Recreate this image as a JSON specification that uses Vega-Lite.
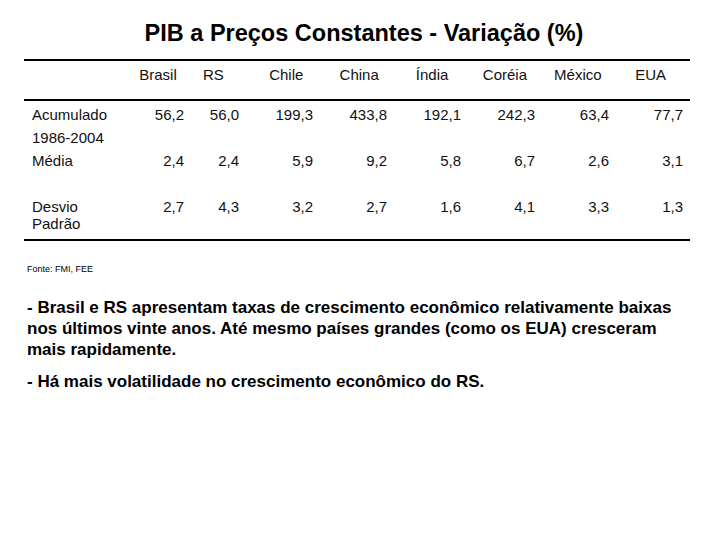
{
  "$schema": "https://vega.github.io/schema/vega-lite/v6.json",
  "width": 720,
  "height": 540,
  "autosize": {"type": "none"},
  "padding": 0,
  "background": "white",
  "config": {
    "view": {"stroke": null},
    "font": "Liberation Sans",
    "text": {"font": "Liberation Sans", "color": "#000000"},
    "locale": {"number": {"decimal": ",", "thousands": ".", "grouping": [3], "currency": ["R$", ""]}}
  },
  "datasets": {
    "titulo": [{"texto": "PIB a Preços Constantes - Variação (%)"}],
    "bordas": [{"borda": "topo"}, {"borda": "cabeçalho"}, {"borda": "base"}],
    "paises": [
      {"pais": "Brasil"}, {"pais": "RS"}, {"pais": "Chile"}, {"pais": "China"},
      {"pais": "Índia"}, {"pais": "Coréia"}, {"pais": "México"}, {"pais": "EUA"}
    ],
    "valores": [
      {"estat": "Acumulado", "pais": "Brasil", "valor": 56.2},
      {"estat": "Acumulado", "pais": "RS", "valor": 56.0},
      {"estat": "Acumulado", "pais": "Chile", "valor": 199.3},
      {"estat": "Acumulado", "pais": "China", "valor": 433.8},
      {"estat": "Acumulado", "pais": "Índia", "valor": 192.1},
      {"estat": "Acumulado", "pais": "Coréia", "valor": 242.3},
      {"estat": "Acumulado", "pais": "México", "valor": 63.4},
      {"estat": "Acumulado", "pais": "EUA", "valor": 77.7},
      {"estat": "Média", "pais": "Brasil", "valor": 2.4},
      {"estat": "Média", "pais": "RS", "valor": 2.4},
      {"estat": "Média", "pais": "Chile", "valor": 5.9},
      {"estat": "Média", "pais": "China", "valor": 9.2},
      {"estat": "Média", "pais": "Índia", "valor": 5.8},
      {"estat": "Média", "pais": "Coréia", "valor": 6.7},
      {"estat": "Média", "pais": "México", "valor": 2.6},
      {"estat": "Média", "pais": "EUA", "valor": 3.1},
      {"estat": "Desvio Padrão", "pais": "Brasil", "valor": 2.7},
      {"estat": "Desvio Padrão", "pais": "RS", "valor": 4.3},
      {"estat": "Desvio Padrão", "pais": "Chile", "valor": 3.2},
      {"estat": "Desvio Padrão", "pais": "China", "valor": 2.7},
      {"estat": "Desvio Padrão", "pais": "Índia", "valor": 1.6},
      {"estat": "Desvio Padrão", "pais": "Coréia", "valor": 4.1},
      {"estat": "Desvio Padrão", "pais": "México", "valor": 3.3},
      {"estat": "Desvio Padrão", "pais": "EUA", "valor": 1.3}
    ],
    "estatisticas": [
      {"estat": "Acumulado", "rotulo": "Acumulado\n1986-2004"},
      {"estat": "Média", "rotulo": "Média"},
      {"estat": "Desvio Padrão", "rotulo": "Desvio\nPadrão"}
    ],
    "fonte": [{"texto": "Fonte: FMI, FEE"}],
    "comentarios": [
      {"item": "1", "texto": "- Brasil e RS apresentam taxas de crescimento econômico relativamente baixas\nnos últimos vinte anos. Até mesmo países grandes (como os EUA) cresceram\nmais rapidamente."},
      {"item": "2", "texto": "- Há mais volatilidade no crescimento econômico do RS."}
    ]
  },
  "layer": [
    {
      "data": {"name": "titulo"},
      "mark": {"type": "text", "fontSize": 23.5, "fontWeight": "bold", "align": "center", "baseline": "alphabetic"},
      "encoding": {
        "x": {"field": "texto", "type": "nominal", "axis": null, "scale": {"range": [364, 364]}},
        "y": {"field": "texto", "type": "nominal", "axis": null, "scale": {"range": [41, 41]}},
        "text": {"field": "texto"}
      }
    },
    {
      "data": {"name": "bordas"},
      "transform": [{"filter": "datum.borda !== 'base'"}],
      "mark": {"type": "rule", "strokeWidth": 2, "color": "#000000"},
      "encoding": {
        "x": {"datum": 0, "type": "quantitative", "axis": null, "scale": {"domain": [0, 1], "range": [24, 690]}},
        "x2": {"datum": 1},
        "y": {"field": "borda", "type": "nominal", "axis": null, "scale": {"type": "point", "domain": ["topo", "cabeçalho"], "range": [60, 100], "padding": 0}}
      }
    },
    {
      "data": {"name": "bordas"},
      "transform": [{"filter": "datum.borda === 'base'"}],
      "mark": {"type": "rule", "strokeWidth": 2, "color": "#000000"},
      "encoding": {
        "x": {"datum": 0, "type": "quantitative", "axis": null, "scale": {"domain": [0, 1], "range": [24, 690]}},
        "x2": {"datum": 1},
        "y": {"field": "borda", "type": "nominal", "axis": null, "scale": {"type": "point", "range": [240, 240]}}
      }
    },
    {
      "data": {"name": "paises"},
      "transform": [{"filter": "datum.pais !== 'Brasil'"}],
      "mark": {"type": "text", "fontSize": 15, "align": "center", "baseline": "alphabetic", "color": "#111111"},
      "encoding": {
        "x": {"field": "pais", "type": "nominal", "axis": null, "scale": {"type": "point", "domain": ["Brasil", "RS", "Chile", "China", "Índia", "Coréia", "México", "EUA"], "range": [140.5, 650.7], "padding": 0}},
        "y": {"datum": "cabeçalho", "type": "nominal", "axis": null, "scale": {"type": "point", "range": [80, 80]}},
        "text": {"field": "pais"}
      }
    },
    {
      "data": {"name": "paises"},
      "transform": [{"filter": "datum.pais === 'Brasil'"}],
      "mark": {"type": "text", "fontSize": 15, "align": "center", "baseline": "alphabetic", "dx": 17.5, "color": "#111111"},
      "encoding": {
        "x": {"field": "pais", "type": "nominal", "axis": null, "scale": {"type": "point", "domain": ["Brasil", "RS", "Chile", "China", "Índia", "Coréia", "México", "EUA"], "range": [140.5, 650.7], "padding": 0}},
        "y": {"datum": "cabeçalho", "type": "nominal", "axis": null, "scale": {"type": "point", "range": [80, 80]}},
        "text": {"field": "pais"}
      }
    },
    {
      "data": {"name": "valores"},
      "transform": [{"filter": "datum.pais !== 'Brasil'"}],
      "mark": {"type": "text", "fontSize": 15, "align": "right", "baseline": "alphabetic", "color": "#111111"},
      "encoding": {
        "x": {"field": "pais", "type": "nominal", "axis": null, "scale": {"type": "point", "domain": ["Brasil", "RS", "Chile", "China", "Índia", "Coréia", "México", "EUA"], "range": [165, 683], "padding": 0}},
        "y": {"field": "estat", "type": "nominal", "axis": null, "scale": {"type": "point", "domain": ["Acumulado", "Média", "Desvio Padrão"], "range": [120.3, 211.5], "padding": 0}},
        "text": {"field": "valor", "type": "quantitative", "format": ".1f"}
      }
    },
    {
      "data": {"name": "valores"},
      "transform": [{"filter": "datum.pais === 'Brasil'"}],
      "mark": {"type": "text", "fontSize": 15, "align": "right", "baseline": "alphabetic", "dx": 19, "color": "#111111"},
      "encoding": {
        "x": {"field": "pais", "type": "nominal", "axis": null, "scale": {"type": "point", "domain": ["Brasil", "RS", "Chile", "China", "Índia", "Coréia", "México", "EUA"], "range": [165, 683], "padding": 0}},
        "y": {"field": "estat", "type": "nominal", "axis": null, "scale": {"type": "point", "domain": ["Acumulado", "Média", "Desvio Padrão"], "range": [120.3, 211.5], "padding": 0}},
        "text": {"field": "valor", "type": "quantitative", "format": ".1f"}
      }
    },
    {
      "data": {"name": "estatisticas"},
      "transform": [{"filter": "datum.estat === 'Acumulado'"}],
      "mark": {"type": "text", "fontSize": 15, "align": "left", "baseline": "alphabetic", "lineBreak": "\n", "lineHeight": 22.8, "color": "#111111"},
      "encoding": {
        "x": {"datum": "rótulo", "type": "nominal", "axis": null, "scale": {"type": "point", "range": [32, 32]}},
        "y": {"field": "estat", "type": "nominal", "axis": null, "scale": {"type": "point", "domain": ["Acumulado", "Média", "Desvio Padrão"], "range": [120.3, 211.5], "padding": 0}},
        "text": {"field": "rotulo"}
      }
    },
    {
      "data": {"name": "estatisticas"},
      "transform": [{"filter": "datum.estat !== 'Acumulado'"}],
      "mark": {"type": "text", "fontSize": 15, "align": "left", "baseline": "alphabetic", "lineBreak": "\n", "lineHeight": 17.5, "color": "#111111"},
      "encoding": {
        "x": {"datum": "rótulo", "type": "nominal", "axis": null, "scale": {"type": "point", "range": [32, 32]}},
        "y": {"field": "estat", "type": "nominal", "axis": null, "scale": {"type": "point", "domain": ["Acumulado", "Média", "Desvio Padrão"], "range": [120.3, 211.5], "padding": 0}},
        "text": {"field": "rotulo"}
      }
    },
    {
      "data": {"name": "fonte"},
      "mark": {"type": "text", "fontSize": 9, "align": "left", "baseline": "alphabetic"},
      "encoding": {
        "x": {"field": "texto", "type": "nominal", "axis": null, "scale": {"type": "point", "range": [27, 27]}},
        "y": {"field": "texto", "type": "nominal", "axis": null, "scale": {"type": "point", "range": [272, 272]}},
        "text": {"field": "texto"}
      }
    },
    {
      "data": {"name": "comentarios"},
      "mark": {"type": "text", "fontSize": 17, "fontWeight": "bold", "align": "left", "baseline": "alphabetic", "lineBreak": "\n", "lineHeight": 21, "color": "#000000"},
      "encoding": {
        "x": {"datum": "comentário", "type": "nominal", "axis": null, "scale": {"type": "point", "range": [27, 27]}},
        "y": {"field": "item", "type": "nominal", "axis": null, "scale": {"type": "point", "domain": ["1", "2"], "range": [313, 387], "padding": 0}},
        "text": {"field": "texto"}
      }
    }
  ],
  "resolve": {"scale": {"x": "independent", "y": "independent"}}
}
